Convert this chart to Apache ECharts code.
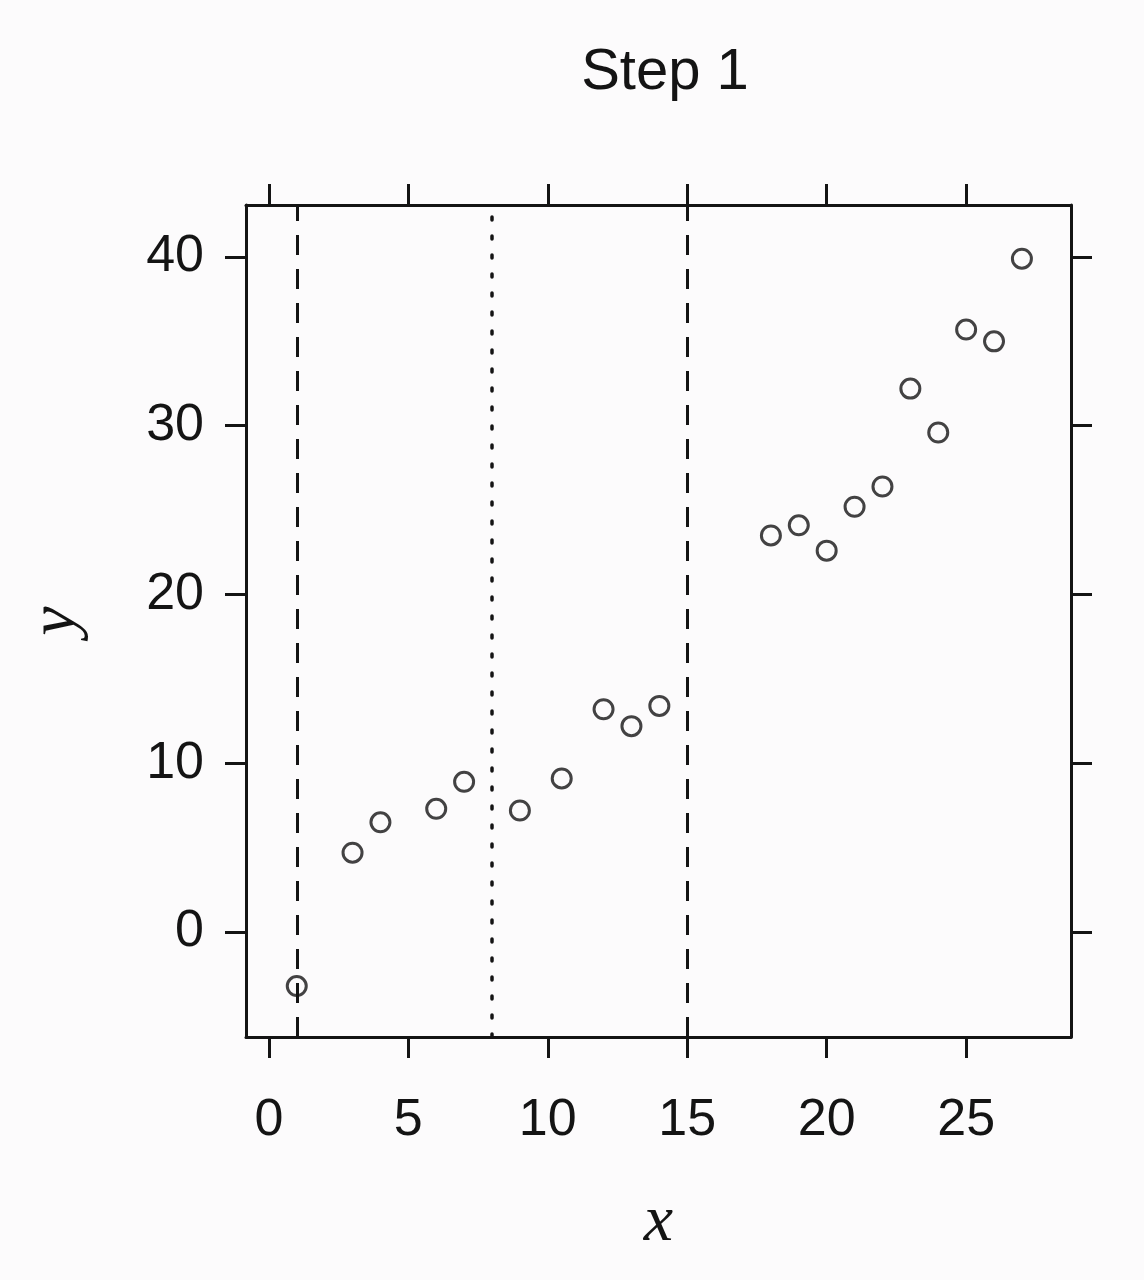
<!DOCTYPE html>
<html>
<head>
<meta charset="utf-8">
<script src="https://cdn.jsdelivr.net/npm/echarts@6/dist/echarts.min.js"></script>
<style>
html,body{margin:0;padding:0;background:#fcfbfc;}
#chart{width:1144px;height:1280px;}
</style>
</head>
<body>
<div id="chart"></div>
<script>
// Data
const xValues = [1, 3, 4, 6, 7, 9, 10.5, 12, 13, 14, 18, 19, 20, 21, 22, 23, 24, 25, 26, 27];
const yValues = [-3.2, 4.7, 6.5, 7.3, 8.9, 7.2, 9.1, 13.2, 12.2, 13.4, 23.5, 24.1, 22.6, 25.2, 26.4, 32.2, 29.6, 35.7, 35.0, 39.9];
const xTicks = [0, 5, 10, 15, 20, 25];
const yTicks = [0, 10, 20, 30, 40];
const dashedLines = [1, 15];
const dottedLines = [8];
const titleText = 'Step 1';
const xName = 'x';
const yName = 'y';

const ink = '#141414';
const points = xValues.map((x, i) => [x, yValues[i]]);
const xMin = -0.82, xMax = 28.76, yMin = -6.22, yMax = 43.08;

const axisCommon = {
  type: 'value',
  axisLine: { show: true, onZero: false, lineStyle: { color: ink, width: 3 } },
  splitLine: { show: false },
  axisTick: { show: true, inside: false, length: 21, lineStyle: { color: ink, width: 3 } }
};
const labelFont = { color: ink, fontFamily: 'Liberation Sans, Arial, sans-serif', fontSize: 52 };
const nameFont = { color: ink, fontFamily: 'Liberation Serif, Times New Roman, serif', fontStyle: 'italic', fontSize: 66 };

const chart = echarts.init(document.getElementById('chart'), null, { renderer: 'canvas' });
chart.setOption({
  animation: false,
  backgroundColor: '#fcfbfc',
  title: {
    text: titleText,
    left: 660, textAlign: 'center', top: 39,
    textStyle: { color: ink, fontFamily: 'Liberation Sans, Arial, sans-serif', fontSize: 58, fontWeight: 'normal' }
  },
  grid: { left: 246, right: 73, top: 205, bottom: 243, containLabel: false, outerBoundsMode: 'none' },
  xAxis: [
    Object.assign({}, axisCommon, {
      position: 'bottom', min: xMin, max: xMax,
      axisTick: Object.assign({}, axisCommon.axisTick, { customValues: xTicks }),
      axisLabel: Object.assign({ show: true, margin: 58, customValues: xTicks }, labelFont),
      name: xName, nameLocation: 'middle', nameGap: 153, nameTextStyle: nameFont
    }),
    Object.assign({}, axisCommon, {
      position: 'top', min: xMin, max: xMax,
      axisTick: Object.assign({}, axisCommon.axisTick, { customValues: xTicks }),
      axisLabel: { show: false }
    })
  ],
  yAxis: [
    Object.assign({}, axisCommon, {
      position: 'left', min: yMin, max: yMax,
      axisTick: Object.assign({}, axisCommon.axisTick, { customValues: yTicks }),
      axisLabel: Object.assign({ show: true, margin: 42, customValues: yTicks }, labelFont),
      name: yName, nameLocation: 'middle', nameGap: 156, nameTextStyle: nameFont
    }),
    Object.assign({}, axisCommon, {
      position: 'right', min: yMin, max: yMax,
      axisTick: Object.assign({}, axisCommon.axisTick, { customValues: yTicks }),
      axisLabel: { show: false }
    })
  ],
  series: [
    {
      type: 'scatter',
      data: points,
      symbol: 'circle',
      symbolSize: 19,
      itemStyle: { color: 'rgba(0,0,0,0)', borderColor: ink, borderWidth: 3 },
      z: 5,
      markLine: {
        silent: true, symbol: ['none', 'none'], label: { show: false },
        lineStyle: { color: ink, width: 3, type: [20, 14] },
        data: dashedLines.map(v => ({ xAxis: v }))
      }
    },
    {
      type: 'scatter',
      data: [],
      markLine: {
        silent: true, symbol: ['none', 'none'], label: { show: false },
        lineStyle: { color: ink, width: 3.5, type: [3, 16], cap: 'round' },
        data: dottedLines.map(v => ({ xAxis: v }))
      }
    }
  ]
});
</script>
</body>
</html>
